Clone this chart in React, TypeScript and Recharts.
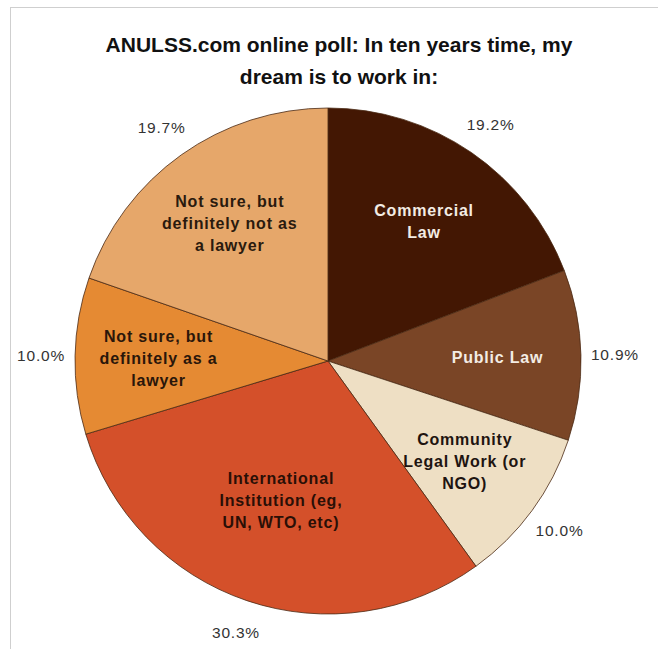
import React from "react";
import { PieChart, Pie, Cell } from "recharts";

// categories (clockwise from 12 o'clock) and their share of votes, in %
const categories = [
  "Commercial\nLaw",
  "Public Law",
  "Community\nLegal Work (or\nNGO)",
  "International\nInstitution (eg,\nUN, WTO, etc)",
  "Not sure, but\ndefinitely as a\nlawyer",
  "Not sure, but\ndefinitely not as\na lawyer",
];
const shares = [19.2, 10.9, 10.0, 30.3, 10.0, 19.7];

const COLORS = ["#431703", "#7a4526", "#eedfc4", "#d4502a", "#e58a33", "#e6a76a"];
const LABEL_COLORS = ["#f3ece4", "#f3ece4", "#1e1410", "#2a0f06", "#2a160a", "#2a1a0e"];

const FONT = "'Liberation Sans', Arial, Helvetica, sans-serif";
const RAD = Math.PI / 180;

const data = categories.map((name, i) => ({ name, value: shares[i] }));

const renderLabel = (props: any) => {
  const { cx, cy, midAngle, outerRadius, index, value, name, percent } = props;
  const cos = Math.cos(-midAngle * RAD);
  const sin = Math.sin(-midAngle * RAD);
  // big slices get their label pulled a bit closer to the middle
  const inR = outerRadius * (percent > 0.25 ? 0.58 : 0.67);
  const outR = outerRadius + 34;
  const ix = cx + inR * cos;
  const iy = cy + inR * sin;
  const ox = cx + outR * cos;
  const oy = cy + outR * sin;
  const lines = String(name).split("\n");
  const lh = 22;
  const top = iy - ((lines.length - 1) * lh) / 2;
  return (
    <g>
      <text
        x={ix}
        y={top}
        textAnchor="middle"
        dominantBaseline="central"
        fill={LABEL_COLORS[index]}
        fontFamily={FONT}
        fontWeight="bold"
        fontSize={16}
        letterSpacing={0.8}
      >
        {lines.map((l, k) => (
          <tspan key={k} x={ix} y={top + k * lh}>
            {l}
          </tspan>
        ))}
      </text>
      <text
        x={ox}
        y={oy}
        textAnchor="middle"
        dominantBaseline="central"
        fill="#333"
        fontFamily={FONT}
        fontSize={15.5}
        letterSpacing={0.8}
      >
        {`${Number(value).toFixed(1)}%`}
      </text>
    </g>
  );
};

export default function App() {
  return (
    <div
      style={{
        position: "absolute",
        left: 0,
        top: 0,
        width: 658,
        height: 649,
        background: "#fff",
        fontFamily: FONT,
      }}
    >
      <div
        style={{
          position: "absolute",
          left: 10,
          top: 7,
          width: 648,
          height: 642,
          borderTop: "1px solid #cfcfcf",
          borderLeft: "1px solid #cfcfcf",
        }}
      />
      <div
        style={{
          position: "absolute",
          left: 10,
          top: 29,
          width: 658,
          textAlign: "center",
          fontWeight: "bold",
          fontSize: 21,
          lineHeight: "32px",
          color: "#111",
        }}
      >
        ANULSS.com online poll: In ten years time, my
        <br />
        dream is to work in:
      </div>
      <div style={{ position: "absolute", left: 0, top: 0 }}>
        <PieChart width={658} height={649} margin={{ top: 0, right: 0, bottom: 0, left: 0 }}>
          <Pie
            data={data}
            dataKey="value"
            nameKey="name"
            cx={328}
            cy={361}
            outerRadius={253}
            startAngle={90}
            endAngle={-270}
            stroke="#4a2a14"
            strokeWidth={0.8}
            labelLine={false}
            label={renderLabel}
            isAnimationActive={false}
          >
            {data.map((entry, index) => (
              <Cell key={`cell-${index}`} fill={COLORS[index % COLORS.length]} />
            ))}
          </Pie>
        </PieChart>
      </div>
    </div>
  );
}
